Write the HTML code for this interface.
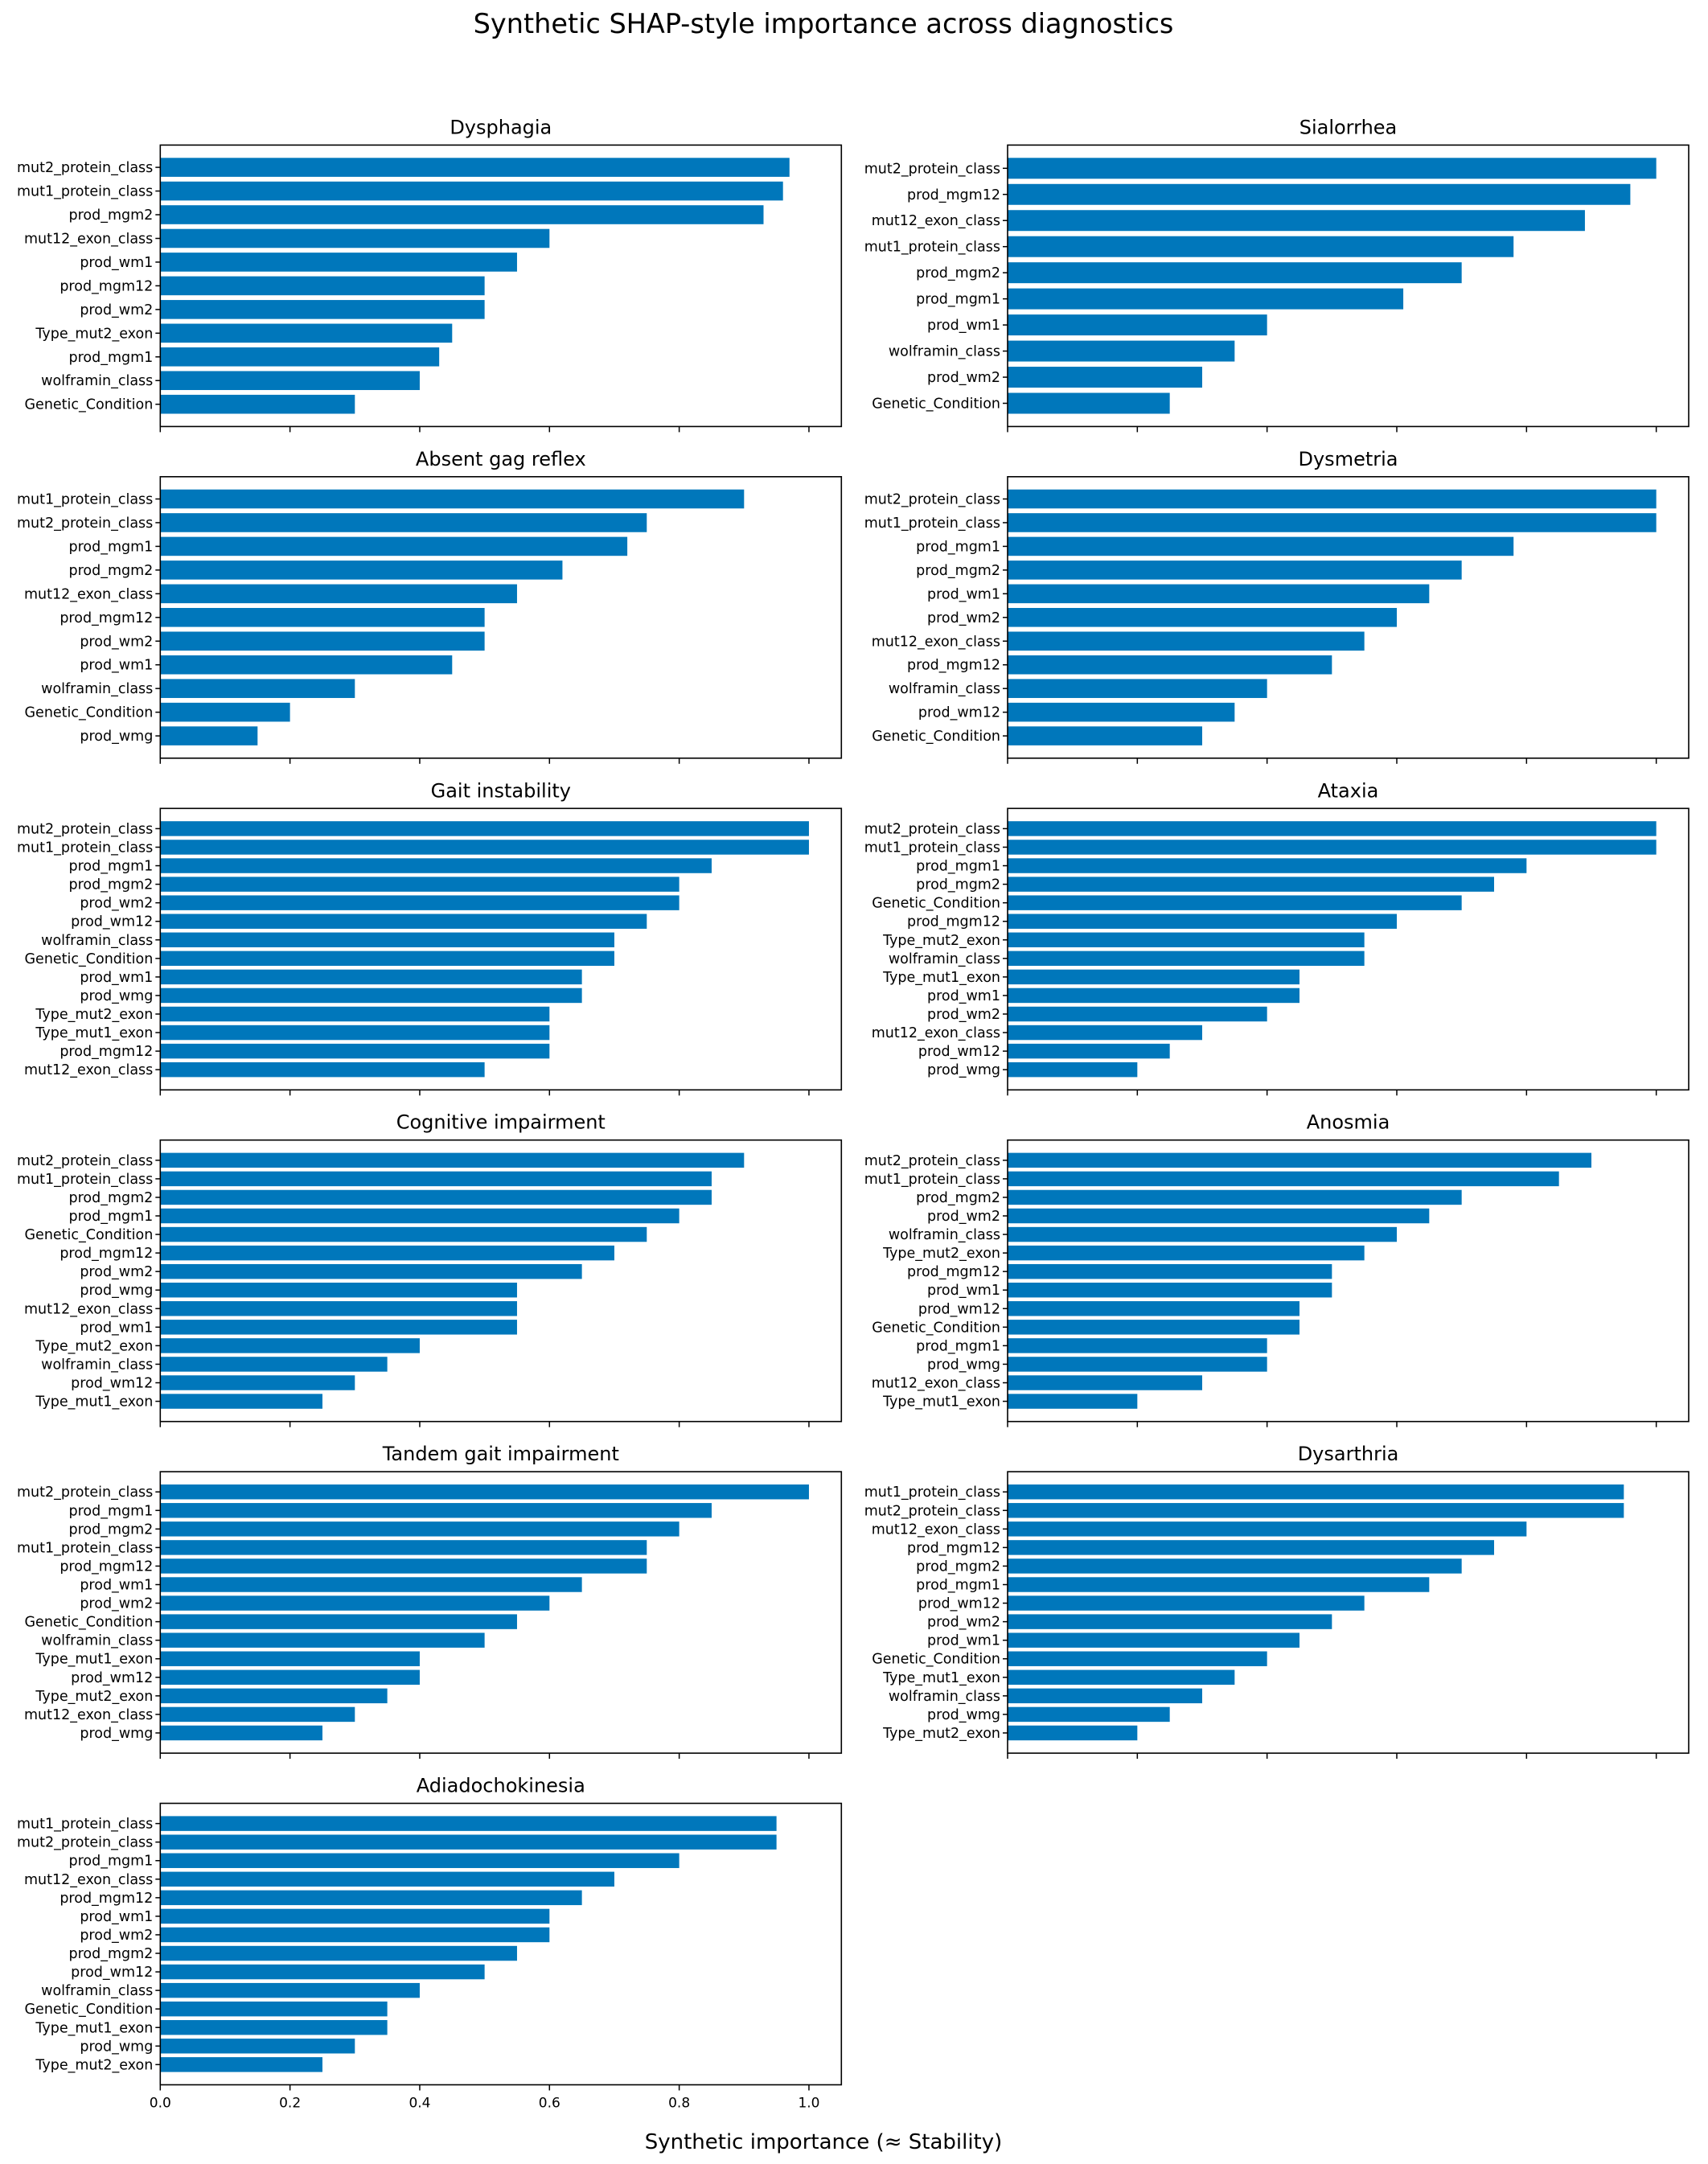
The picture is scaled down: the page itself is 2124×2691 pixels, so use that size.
<!DOCTYPE html>
<html><head><meta charset="utf-8"><style>
html,body{margin:0;padding:0;background:#fff}
svg{display:block}
text{font-family:"DejaVu Sans","Liberation Sans",sans-serif;fill:#000}
</style></head><body>
<svg id="chart" width="2124" height="2691" viewBox="0 0 2124 2691" xmlns="http://www.w3.org/2000/svg">
<text x="1024" y="41" font-size="33.5" text-anchor="middle">Synthetic SHAP-style importance across diagnostics</text>
<text x="1024" y="2672" font-size="26" text-anchor="middle">Synthetic importance (≈ Stability)</text>
</svg>
<script>
const panelTitles = ["Dysphagia","Sialorrhea","Absent gag reflex","Dysmetria","Gait instability","Ataxia","Cognitive impairment","Anosmia","Tandem gait impairment","Dysarthria","Adiadochokinesia"];
const dysphagiaLabels = ["mut2_protein_class","mut1_protein_class","prod_mgm2","mut12_exon_class","prod_wm1","prod_mgm12","prod_wm2","Type_mut2_exon","prod_mgm1","wolframin_class","Genetic_Condition"];
const dysphagiaValues = [0.97,0.96,0.93,0.60,0.55,0.50,0.50,0.45,0.43,0.40,0.30];
const sialorrheaLabels = ["mut2_protein_class","prod_mgm12","mut12_exon_class","mut1_protein_class","prod_mgm2","prod_mgm1","prod_wm1","wolframin_class","prod_wm2","Genetic_Condition"];
const sialorrheaValues = [1.0,0.96,0.89,0.78,0.70,0.61,0.40,0.35,0.30,0.25];
const gagLabels = ["mut1_protein_class","mut2_protein_class","prod_mgm1","prod_mgm2","mut12_exon_class","prod_mgm12","prod_wm2","prod_wm1","wolframin_class","Genetic_Condition","prod_wmg"];
const gagValues = [0.90,0.75,0.72,0.62,0.55,0.50,0.50,0.45,0.30,0.20,0.15];
const dysmetriaLabels = ["mut2_protein_class","mut1_protein_class","prod_mgm1","prod_mgm2","prod_wm1","prod_wm2","mut12_exon_class","prod_mgm12","wolframin_class","prod_wm12","Genetic_Condition"];
const dysmetriaValues = [1.0,1.0,0.78,0.70,0.65,0.60,0.55,0.50,0.40,0.35,0.30];
const gaitLabels = ["mut2_protein_class","mut1_protein_class","prod_mgm1","prod_mgm2","prod_wm2","prod_wm12","wolframin_class","Genetic_Condition","prod_wm1","prod_wmg","Type_mut2_exon","Type_mut1_exon","prod_mgm12","mut12_exon_class"];
const gaitValues = [1.0,1.0,0.85,0.80,0.80,0.75,0.70,0.70,0.65,0.65,0.60,0.60,0.60,0.50];
const ataxiaLabels = ["mut2_protein_class","mut1_protein_class","prod_mgm1","prod_mgm2","Genetic_Condition","prod_mgm12","Type_mut2_exon","wolframin_class","Type_mut1_exon","prod_wm1","prod_wm2","mut12_exon_class","prod_wm12","prod_wmg"];
const ataxiaValues = [1.0,1.0,0.80,0.75,0.70,0.60,0.55,0.55,0.45,0.45,0.40,0.30,0.25,0.20];
const cognitiveLabels = ["mut2_protein_class","mut1_protein_class","prod_mgm2","prod_mgm1","Genetic_Condition","prod_mgm12","prod_wm2","prod_wmg","mut12_exon_class","prod_wm1","Type_mut2_exon","wolframin_class","prod_wm12","Type_mut1_exon"];
const cognitiveValues = [0.90,0.85,0.85,0.80,0.75,0.70,0.65,0.55,0.55,0.55,0.40,0.35,0.30,0.25];
const anosmiaLabels = ["mut2_protein_class","mut1_protein_class","prod_mgm2","prod_wm2","wolframin_class","Type_mut2_exon","prod_mgm12","prod_wm1","prod_wm12","Genetic_Condition","prod_mgm1","prod_wmg","mut12_exon_class","Type_mut1_exon"];
const anosmiaValues = [0.90,0.85,0.70,0.65,0.60,0.55,0.50,0.50,0.45,0.45,0.40,0.40,0.30,0.20];
const tandemLabels = ["mut2_protein_class","prod_mgm1","prod_mgm2","mut1_protein_class","prod_mgm12","prod_wm1","prod_wm2","Genetic_Condition","wolframin_class","Type_mut1_exon","prod_wm12","Type_mut2_exon","mut12_exon_class","prod_wmg"];
const tandemValues = [1.0,0.85,0.80,0.75,0.75,0.65,0.60,0.55,0.50,0.40,0.40,0.35,0.30,0.25];
const dysarthriaLabels = ["mut1_protein_class","mut2_protein_class","mut12_exon_class","prod_mgm12","prod_mgm2","prod_mgm1","prod_wm12","prod_wm2","prod_wm1","Genetic_Condition","Type_mut1_exon","wolframin_class","prod_wmg","Type_mut2_exon"];
const dysarthriaValues = [0.95,0.95,0.80,0.75,0.70,0.65,0.55,0.50,0.45,0.40,0.35,0.30,0.25,0.20];
const adiadoLabels = ["mut1_protein_class","mut2_protein_class","prod_mgm1","mut12_exon_class","prod_mgm12","prod_wm1","prod_wm2","prod_mgm2","prod_wm12","wolframin_class","Genetic_Condition","Type_mut1_exon","prod_wmg","Type_mut2_exon"];
const adiadoValues = [0.95,0.95,0.80,0.70,0.65,0.60,0.60,0.55,0.50,0.40,0.35,0.35,0.30,0.25];
const xTickValues = [0,0.2,0.4,0.6,0.8,1.0];
const xTickLabels = ["0.0","0.2","0.4","0.6","0.8","1.0"];

const panelLabels = [dysphagiaLabels,sialorrheaLabels,gagLabels,dysmetriaLabels,gaitLabels,ataxiaLabels,cognitiveLabels,anosmiaLabels,tandemLabels,dysarthriaLabels,adiadoLabels];
const panelValues = [dysphagiaValues,sialorrheaValues,gagValues,dysmetriaValues,gaitValues,ataxiaValues,cognitiveValues,anosmiaValues,tandemValues,dysarthriaValues,adiadoValues];

const NS = "http://www.w3.org/2000/svg";
const svg = document.getElementById('chart');
function mk(tag, attrs, parent){const e=document.createElementNS(NS,tag);for(const k in attrs)e.setAttribute(k,attrs[k]);parent.appendChild(e);return e;}

const colLeft = [199.3, 1253];
const axW = 847;
const rowTop = [180.4, 592.8, 1005.3, 1417.7, 1830.1, 2242.5];
const axH = 350;
const xMax = 1.05;

panelTitles.forEach((title, p) => {
  const col = p % 2, row = Math.floor(p / 2);
  const L = colLeft[col], T = rowTop[row];
  const labels = panelLabels[p], vals = panelValues[p];
  const n = labels.length;
  const xs = v => L + v / xMax * axW;
  const span = (n - 1) + 0.8;
  const yMin = -0.4 - 0.05 * span, yMaxD = n - 1 + 0.4 + 0.05 * span;
  const ys = i => T + (i - yMin) / (yMaxD - yMin) * axH;
  const unit = axH / (yMaxD - yMin);
  const g = mk('g', {}, svg);
  
  
  const t = mk('text', {x: L + axW / 2, y: T - 14, 'font-size': 24, 'text-anchor': 'middle'}, g);
  
  
  t.textContent = title;
  vals.forEach((v, i) => {
    const yc = ys(i);
    const r = mk('rect', {x: xs(0), y: yc - 0.4 * unit, width: xs(v) - xs(0), height: 0.8 * unit, fill: '#0077bb'}, g);
    
    
    mk('line', {x1: L - 6, x2: L, y1: yc, y2: yc, stroke: '#000', 'stroke-width': 1.5}, g);
    const lt = mk('text', {x: L - 9, y: yc + 6, 'font-size': 17.5, 'text-anchor': 'end'}, g);
    
    
    lt.textContent = labels[i];
  });
  const frame = mk('rect', {x: L, y: T, width: axW, height: axH, fill: 'none', stroke: '#000', 'stroke-width': 1.6}, g);
  
  
  xTickValues.forEach((tv, k) => {
    const x = xs(tv);
    mk('line', {x1: x, x2: x, y1: T + axH, y2: T + axH + 7, stroke: '#000', 'stroke-width': 1.5}, g);
    if (p === panelTitles.length - 1) {
      const tl = mk('text', {x: x, y: T + axH + 28, 'font-size': 17, 'text-anchor': 'middle'}, g);
      
      
      tl.textContent = xTickLabels[k];
    }
  });
});
</script>
</body></html>
